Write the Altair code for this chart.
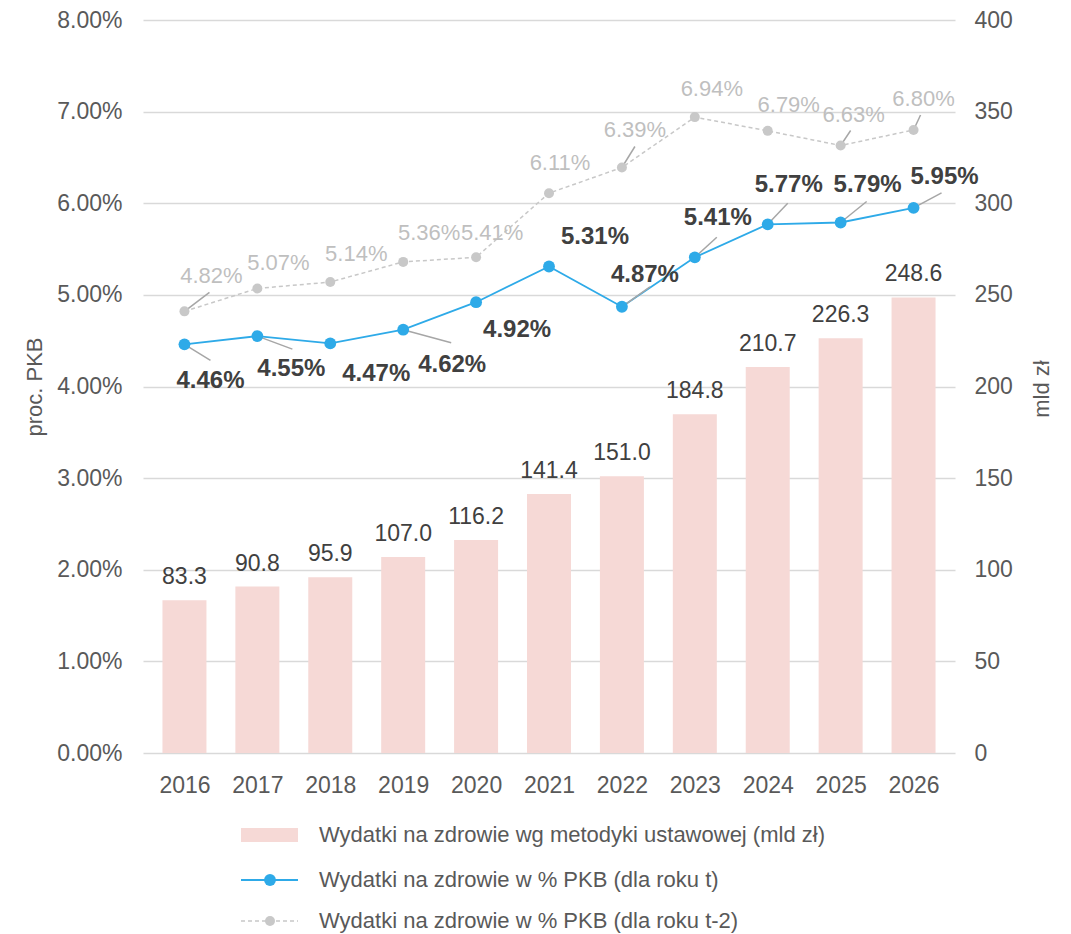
import altair as alt
import pandas as pd

years = [2016, 2017, 2018, 2019, 2020, 2021, 2022, 2023, 2024, 2025, 2026]
spend_bn = [83.3, 90.8, 95.9, 107.0, 116.2, 141.4, 151.0, 184.8, 210.7, 226.3, 248.6]
pct_t = [4.46, 4.55, 4.47, 4.62, 4.92, 5.31, 4.87, 5.41, 5.77, 5.79, 5.95]
pct_t2 = [4.82, 5.07, 5.14, 5.36, 5.41, 6.11, 6.39, 6.94, 6.79, 6.63, 6.80]

legend_labels = [
    "Wydatki na zdrowie wg metodyki ustawowej (mld zł)",
    "Wydatki na zdrowie w % PKB (dla roku t)",
    "Wydatki na zdrowie w % PKB (dla roku t-2)",
]

# layout: label offsets (dx, dy) in px and leader-line ends (or None)
blue_off = [(26, 37), (34, 33), (46, 31), (49, 35), (41, 28), (46, -29),
            (23, -32), (23, -39), (21, -39), (27, -37), (31, -31)]
blue_lead = [(26, 16), (35, 13), None, (48, 13), None, None,
             (28, -20), (22, -20), (20, -21), (26, -21), (28, -15)]
gray_off = [(27, -35), (21, -25), (26, -28), (26, -29), (16, -24), (11, -30),
            (13, -38), (17, -28), (21, -26), (13, -31), (10, -31)]
gray_lead = [(25, -19), None, None, None, None, None,
             (13, -21), None, None, (10, -15), (7, -15)]

FONT = "Liberation Sans"
W, H = 812, 733
BAR_C = "#f6d9d6"
BLUE = "#2eaae8"
GRAY = "#c8c8c8"
AX_C = "#595959"

df = pd.DataFrame({
    "year": years,
    "bn": spend_bn,
    "t": [v / 100 for v in pct_t],
    "t2": [v / 100 for v in pct_t2],
})
df["bn_lbl"] = [f"{v:.1f}" for v in spend_bn]
df["t_lbl"] = [f"{v:.2f}%" for v in pct_t]
df["t2_lbl"] = [f"{v:.2f}%" for v in pct_t2]

xs = alt.Scale(domain=[2015.5, 2026.5], nice=False, zero=False)
x_axis = alt.Axis(values=years, format="d", title=None, grid=False,
                  ticks=False, domain=False, labelFontSize=23,
                  labelColor=AX_C, labelFont=FONT, labelPadding=21,
                  labelFlush=False)
x_enc = alt.X("year:Q", scale=xs, axis=x_axis)

ys_pct = alt.Scale(domain=[0, 0.08], nice=False)
ys_bn = alt.Scale(domain=[0, 400], nice=False)

base = alt.Chart(df)

blue_line = base.mark_line(color=BLUE, strokeWidth=1.8).encode(
    x=x_enc,
    y=alt.Y("t:Q", scale=ys_pct,
            axis=alt.Axis(orient="left", values=[i / 100 for i in range(9)],
                          format=".2%", title="proc. PKB", grid=True,
                          gridColor="#d9d9d9", gridWidth=1.5, ticks=False,
                          domain=False, labelFontSize=23, labelColor=AX_C,
                          labelFont=FONT, labelPadding=21, titleFont=FONT,
                          titleFontSize=22, titleFontWeight="normal",
                          titleColor=AX_C, titleAngle=270, titleX=-109,
                          titleY=H / 2, titleAlign="center",
                          titleBaseline="middle")),
)

bars = base.mark_bar(color=BAR_C, size=44).encode(
    x=x_enc,
    y=alt.Y("bn:Q", scale=ys_bn,
            axis=alt.Axis(orient="right", values=list(range(0, 401, 50)),
                          title="mld zł", grid=False, ticks=False,
                          domain=False, labelFontSize=23, labelColor=AX_C,
                          labelFont=FONT, labelPadding=19, titleFont=FONT,
                          titleFontSize=22, titleFontWeight="normal",
                          titleColor=AX_C, titleAngle=270, titleX=86,
                          titleY=H / 2 + 2, titleAlign="center",
                          titleBaseline="middle")),
)
bar_text = base.mark_text(font=FONT, fontSize=23, color="#404040",
                          baseline="middle", dy=-23).encode(
    x=x_enc, y=alt.Y("bn:Q", scale=ys_bn, axis=None), text="bn_lbl:N")

pct_layers = []
pct_layers.append(
    base.mark_line(color=GRAY, strokeWidth=1.5, strokeDash=[4, 3]).encode(
        x=x_enc, y=alt.Y("t2:Q", scale=ys_pct, axis=None)))

for i, yr in enumerate(years):
    for field, lead in (("t", blue_lead[i]), ("t2", gray_lead[i])):
        if lead is None:
            continue
        pct_layers.append(
            base.transform_filter(alt.datum.year == yr)
            .mark_rule(color="#a6a6a6", strokeWidth=1.5,
                       x2Offset=lead[0], y2Offset=lead[1])
            .encode(x=x_enc, x2="year:Q",
                    y=alt.Y(f"{field}:Q", scale=ys_pct, axis=None),
                    y2=f"{field}:Q"))

pct_layers.append(
    base.mark_point(color=GRAY, filled=True, opacity=1, size=100).encode(
        x=x_enc, y=alt.Y("t2:Q", scale=ys_pct, axis=None)))
pct_layers.append(
    base.mark_point(color=BLUE, filled=True, opacity=1, size=140).encode(
        x=x_enc, y=alt.Y("t:Q", scale=ys_pct, axis=None)))

for i, yr in enumerate(years):
    dx, dy = gray_off[i]
    pct_layers.append(
        base.transform_filter(alt.datum.year == yr)
        .mark_text(font=FONT, fontSize=22, color="#bfbfbf", dx=dx, dy=dy,
                   baseline="middle", align="center")
        .encode(x=x_enc, y=alt.Y("t2:Q", scale=ys_pct, axis=None),
                text="t2_lbl:N"))
    dx, dy = blue_off[i]
    pct_layers.append(
        base.transform_filter(alt.datum.year == yr)
        .mark_text(font=FONT, fontSize=24, fontWeight="bold", color="#404040",
                   dx=dx, dy=dy, baseline="middle", align="center")
        .encode(x=x_enc, y=alt.Y("t:Q", scale=ys_pct, axis=None),
                text="t_lbl:N"))

leg = pd.DataFrame({"label": legend_labels, "row": [0, 1, 2]})
lb = alt.Chart(leg)
ly = [815, 860, 901]
legend_layers = [
    lb.transform_filter(alt.datum.row == 0).mark_rect(color=BAR_C).encode(
        x=alt.value(98), x2=alt.value(155), y=alt.value(ly[0] - 7),
        y2=alt.value(ly[0] + 7)),
    lb.transform_filter(alt.datum.row == 1).mark_rule(
        color=BLUE, strokeWidth=1.8).encode(
        x=alt.value(98), x2=alt.value(155), y=alt.value(ly[1])),
    lb.transform_filter(alt.datum.row == 1).mark_point(
        color=BLUE, filled=True, opacity=1, size=140).encode(
        x=alt.value(127), y=alt.value(ly[1])),
    lb.transform_filter(alt.datum.row == 2).mark_rule(
        color=GRAY, strokeWidth=1.5, strokeDash=[4, 3]).encode(
        x=alt.value(98), x2=alt.value(155), y=alt.value(ly[2])),
    lb.transform_filter(alt.datum.row == 2).mark_point(
        color=GRAY, filled=True, opacity=1, size=100).encode(
        x=alt.value(127), y=alt.value(ly[2])),
]
for r in range(3):
    legend_layers.append(
        lb.transform_filter(alt.datum.row == r).mark_text(
            font=FONT, fontSize=22, color=AX_C, align="left",
            baseline="middle").encode(
            x=alt.value(176), y=alt.value(ly[r]), text="label:N"))

chart = alt.layer(
    blue_line, bars, bar_text, *pct_layers, *legend_layers
).resolve_scale(y="independent").properties(
    width=W, height=H,
    background="white",
    autosize=alt.AutoSizeParams(type="none"),
    padding={"left": 135, "top": 12, "right": 100, "bottom": 180},
).configure_view(strokeWidth=0).configure_axis(
    domain=False, ticks=False
)

chart.save("out.html", embed_options={"renderer": "svg", "actions": False})
